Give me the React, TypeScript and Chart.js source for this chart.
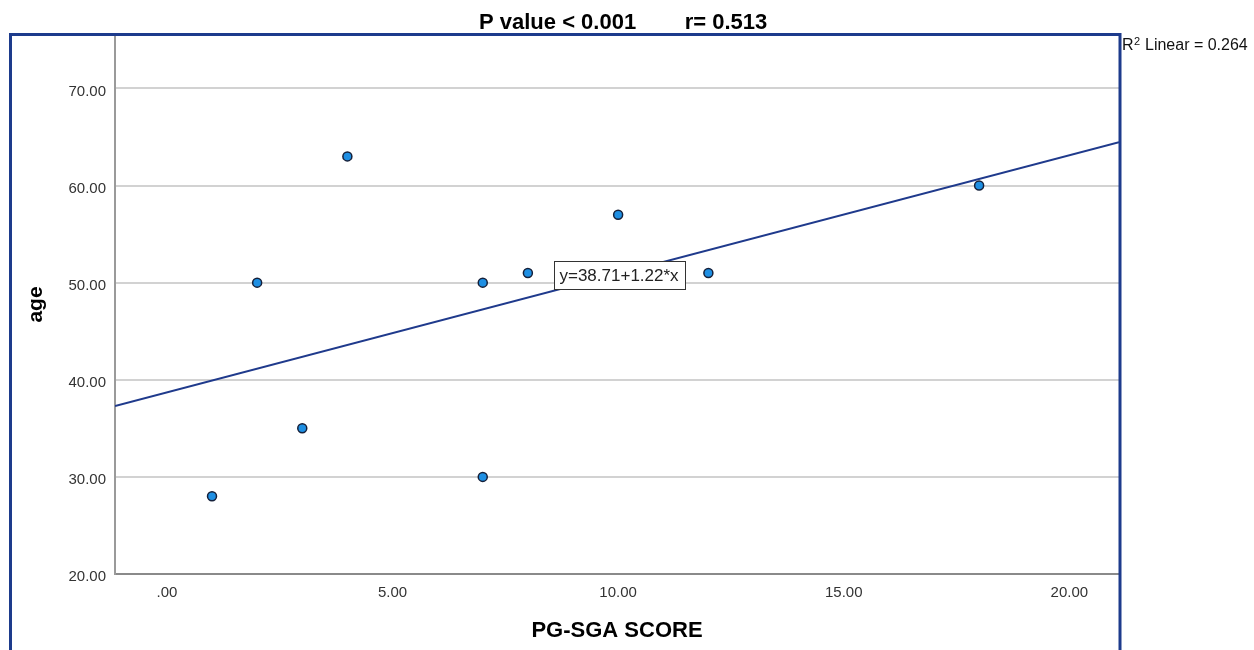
import React, { useEffect, useRef } from "react";
import { Chart, registerables } from "chart.js";

Chart.register(...registerables);

// ---- data ----
const pgsgaScore = [1, 2, 3, 4, 7, 7, 8, 10, 12, 18];
const age = [28, 50, 35, 63, 50, 30, 51, 57, 51, 60];
const xTickValues = [0, 5, 10, 15, 20];
const yTickValues = [20, 30, 40, 50, 60, 70];
const xRange = [-1.15, 21.1];
const yRange = [20, 75.5];
const fitIntercept = 38.71;
const fitSlope = 1.22;
const rSquared = 0.264;
const titleParts = ["P value < 0.001", "r= 0.513"];
const xTitle = "PG-SGA SCORE";
const yTitle = "age";
const eqLabelAt = [10.02, 50.8];

const FONT = '"Liberation Sans", Arial, sans-serif';
const FRAME = "#1d3b8c";

const fmt = (v: number) => {
  const s = v.toFixed(2);
  return s.startsWith("0.") ? s.slice(1) : s;
};

const decor = {
  id: "decor",
  afterDatasetsDraw(chart: any) {
    const { ctx, scales } = chart;
    const cx = scales.x.getPixelForValue(eqLabelAt[0]);
    const cy = scales.y.getPixelForValue(eqLabelAt[1]);
    const txt = `y=${fitIntercept.toFixed(2)}+${fitSlope.toFixed(2)}*x`;
    ctx.save();
    ctx.font = `17px ${FONT}`;
    const w = ctx.measureText(txt).width;
    const bw = Math.round(w + 12);
    const bh = 28;
    const bx = Math.round(cx - bw / 2) + 0.5;
    const by = Math.round(cy - bh / 2) + 0.5;
    ctx.fillStyle = "#ffffff";
    ctx.fillRect(bx, by, bw, bh);
    ctx.strokeStyle = "#333";
    ctx.lineWidth = 1;
    ctx.strokeRect(bx, by, bw, bh);
    ctx.fillStyle = "#222";
    ctx.textBaseline = "middle";
    ctx.textAlign = "center";
    ctx.fillText(txt, cx, cy + 1);
    ctx.restore();
  },
  afterDraw(chart: any) {
    const { ctx } = chart;
    ctx.save();
    // title
    ctx.fillStyle = "#000";
    ctx.font = `bold 22px ${FONT}`;
    ctx.textBaseline = "alphabetic";
    ctx.textAlign = "left";
    ctx.fillText(titleParts[0], 479, 29);
    ctx.textAlign = "center";
    ctx.fillText(titleParts[1], 726, 29);
    // R² label
    ctx.textAlign = "left";
    ctx.font = `16px ${FONT}`;
    ctx.fillStyle = "#111";
    ctx.fillText("R", 1122, 50);
    ctx.font = `11px ${FONT}`;
    ctx.fillText("2", 1134, 45);
    ctx.font = `16px ${FONT}`;
    ctx.fillText(`Linear = ${rSquared.toFixed(3)}`, 1145, 50);
    // frame
    ctx.strokeStyle = FRAME;
    ctx.lineWidth = 3;
    ctx.strokeRect(10.5, 34.5, 1109.5, 620);
    ctx.restore();
  },
};

export default function App() {
  const ref = useRef<HTMLCanvasElement | null>(null);

  useEffect(() => {
    if (!ref.current) return;
    const points = pgsgaScore.map((x, i) => ({ x, y: age[i] }));
    const fitLine = xRange.map((x) => ({ x, y: fitIntercept + fitSlope * x }));
    const chart = new Chart(ref.current, {
      type: "scatter",
      data: {
        datasets: [
          {
            label: "age",
            data: points,
            backgroundColor: "#1e8fe3",
            borderColor: "#15203a",
            borderWidth: 1.5,
            pointRadius: 4.5,
            pointHoverRadius: 4.5,
          },
          {
            label: "fit",
            data: fitLine,
            showLine: true,
            borderColor: "#1f3a8c",
            borderWidth: 2,
            pointRadius: 0,
            fill: false,
          },
        ],
      },
      options: {
        responsive: false,
        animation: false,
        events: [],
        layout: { padding: { top: 35, right: 135, bottom: 0, left: 0 } },
        plugins: {
          legend: { display: false },
          title: { display: false },
          tooltip: { enabled: false },
        },
        scales: {
          x: {
            type: "linear",
            min: xRange[0],
            max: xRange[1],
            afterBuildTicks: (s: any) => {
              s.ticks = xTickValues.map((v) => ({ value: v }));
            },
            afterFit: (s: any) => {
              s.height = 76;
            },
            ticks: {
              padding: 10,
              color: "#333",
              font: { family: FONT, size: 15 },
              callback: (v: any) => fmt(Number(v)),
            },
            grid: { display: false, drawTicks: false },
            border: { display: true, color: "#8a8a8a", width: 2 },
            title: {
              display: true,
              text: xTitle,
              color: "#000",
              font: { family: FONT, size: 22, weight: "bold" },
              padding: { top: 0, bottom: 6 },
            },
          },
          y: {
            type: "linear",
            min: yRange[0],
            max: yRange[1],
            afterBuildTicks: (s: any) => {
              s.ticks = yTickValues.map((v) => ({ value: v }));
            },
            afterFit: (s: any) => {
              s.width = 115;
            },
            ticks: {
              padding: 9,
              labelOffset: 3,
              color: "#333",
              font: { family: FONT, size: 15 },
              callback: (v: any) => fmt(Number(v)),
            },
            grid: { display: true, drawTicks: false, color: "#d2d2d2", lineWidth: 2 },
            border: { display: true, color: "#9a9a9a", width: 2 },
            title: {
              display: true,
              text: yTitle,
              color: "#000",
              font: { family: FONT, size: 21, weight: "bold" },
              padding: { top: 24, bottom: 0 },
            },
          },
        },
      },
      plugins: [decor],
    } as any);
    return () => chart.destroy();
  }, []);

  return (
    <div style={{ position: "fixed", left: 0, top: 0, width: 1254, height: 650, background: "#fff" }}>
      <canvas ref={ref} width={1254} height={650} style={{ display: "block" }} />
    </div>
  );
}
